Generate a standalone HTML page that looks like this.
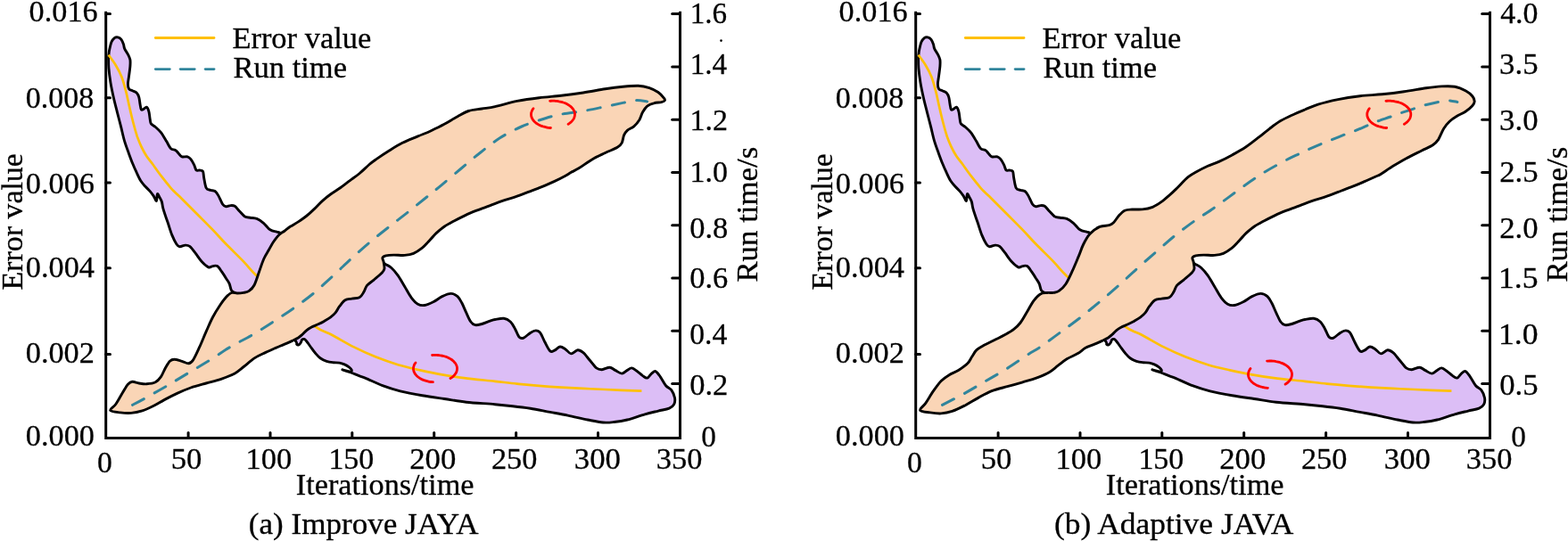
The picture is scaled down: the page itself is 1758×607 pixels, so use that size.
<!DOCTYPE html>
<html><head><meta charset="utf-8"><style>
html,body{margin:0;padding:0;background:#fff;}
svg{display:block;}
text{font-family:"Liberation Serif", "Times New Roman", serif;font-size:34.5px;fill:#000;stroke:#000;stroke-width:0.3px;}
</style></head><body>
<svg width="1758" height="607" viewBox="0 0 1758 607">
<path d="M122.4 57.2C122.8 55.6 123.9 49.8 124.9 47.3C125.9 44.8 127.4 43.3 128.6 42.4C129.8 41.5 131.1 41.6 132.3 41.9C133.5 42.2 135 43 136 44.3C137 45.6 137.9 48.1 138.5 49.8C139.1 51.5 138.9 52.9 139.7 54.7C140.5 56.6 142.4 58.8 143.4 60.9C144.4 63 145.5 64.8 145.9 67.1C146.3 69.4 146.1 71.6 145.9 74.5C145.7 77.4 145.1 81.1 144.7 84.4C144.3 87.7 143.4 91.7 143.4 94.3C143.4 96.9 143.9 98.8 144.7 100C145.5 101.2 147 101 148.4 101.7C149.8 102.4 152.1 103 153.3 104.2C154.5 105.4 155.2 107 155.8 109.1C156.4 111.1 156.6 114.2 157 116.5C157.4 118.8 157.7 121.7 158.3 122.7C158.9 123.7 159.7 123.1 160.7 122.7C161.7 122.3 163.4 119.8 164.4 120.2C165.4 120.6 166.3 122.9 166.9 125.2C167.5 127.5 167.8 131.5 168.2 133.8C168.6 136.1 168.4 137.4 169.4 138.8C170.4 140.2 172.5 140.8 174.3 142.5C176.2 144.2 178.4 146 180.5 148.7C182.6 151.4 184.8 155.6 186.7 158.6C188.5 161.6 189.9 165.1 191.6 166.7C193.2 168.3 195.1 167.5 196.6 168.4C198.1 169.3 199.1 170.9 200.3 172.2C201.5 173.4 202.3 175.3 204 175.9C205.7 176.5 208.5 175.4 210.2 175.9C211.8 176.4 212.7 177.2 213.9 178.7C215.1 180.2 216.6 182.8 217.6 184.8C218.6 186.9 219.1 190 220.1 191C221.1 192 222.6 190.8 223.8 191C225 191.2 226.7 190.8 227.5 192.2C228.3 193.6 228.1 196.6 228.7 199.7C229.3 202.8 230 208.5 231.2 210.8C232.4 213.1 234.4 212.7 236.1 213.3C237.8 213.9 239.6 213.5 241.1 214.5C242.6 215.5 243.4 216.9 244.8 219.4C246.2 221.9 248.3 227.2 249.7 229.3C251.1 231.4 252 231.6 253.4 231.8C254.8 232 256.8 230.7 258.4 230.6C260 230.5 261.6 230.3 263.3 231.3C265 232.3 266.4 234.8 268.3 236.7C270.2 238.6 272.4 241.7 274.5 242.9C276.6 244.2 278.4 243.8 280.6 244.2C282.9 244.6 285.5 244.4 288 245.4C290.5 246.4 293 248.2 295.5 250.3C298 252.4 300.4 256.2 302.9 257.8C305.4 259.4 308.1 259.5 310.3 260.2C312.5 260.9 311.1 260 316 262C320.9 264 329.3 268.5 340 272C350.7 275.5 366.7 279.8 380 283C393.3 286.2 411.2 288.7 420 291C428.8 293.3 429.6 295.1 432.7 296.7C435.8 298.3 436.6 298.4 438.8 300.5C441.1 302.6 443.7 305.6 446.2 309.1C448.7 312.6 451.2 317.4 453.7 321.5C456.2 325.6 458.6 330.5 461.1 333.8C463.6 337.1 466 339.8 468.5 341.2C471 342.6 473 342.9 475.9 342.5C478.8 342.1 482.5 340.4 485.8 338.8C489.1 337.2 492.4 334.2 495.7 332.6C499 331 502.7 329.4 505.6 329.4C508.5 329.4 510.9 330.8 513 332.6C515 334.4 516.2 336.9 517.9 340C519.5 343.1 521.2 347.6 522.9 351.1C524.5 354.6 526.1 358.7 527.8 361C529.4 363.3 530.7 364.3 532.8 364.7C534.9 365.1 537.3 364.3 540.2 363.5C543.1 362.7 547.6 360.6 550.1 359.8C552.6 359 552.5 358.9 555 358.5C557.5 358.1 562 356.9 564.9 357.3C567.8 357.7 570.2 359.1 572.3 361C574.3 362.9 575.6 365.5 577.2 368.4C578.9 371.3 580.6 376.5 582.2 378.3C583.9 380.1 585 379.9 587.1 379.1C589.2 378.3 592.3 374.8 594.6 373.4C596.9 372 598.9 370.9 600.7 370.9C602.6 370.9 604.1 371.3 605.7 373.4C607.4 375.5 608.8 379.9 610.6 383.3C612.5 386.7 614.9 392.2 616.8 393.9C618.6 395.5 619.9 394 621.7 393.2C623.6 392.4 625.8 389.2 627.9 389C630 388.8 632 390.6 634.1 391.9C636.2 393.2 638 396.8 640.3 396.9C642.6 397 645.4 392.9 647.7 392.7C650 392.5 651.6 393.7 653.9 395.6C656.2 397.5 658.8 401.4 661.3 404.3C663.8 407.2 666.4 411.2 668.7 412.9C671 414.6 672.4 414.8 674.9 414.7C677.4 414.6 681.1 412.1 683.6 412.2C686.1 412.3 687.4 414.2 689.7 415.4C692 416.5 694.9 419.1 697.2 419.1C699.5 419.1 701.4 416.4 703.3 415.4C705.1 414.4 706.4 412.7 708.3 412.9C710.2 413.1 712.5 415.2 714.5 416.6C716.5 418.1 718.8 420.4 720.6 421.6C722.5 422.9 724 424.5 725.6 424.1C727.2 423.7 728.9 420.4 730.5 419.1C732.1 417.9 733.4 416 735 416.6C736.6 417.2 738.5 420.1 740.4 422.8C742.3 425.5 744.5 430.2 746.6 432.7C748.7 435.2 751.1 435.4 752.8 437.7C754.4 440 756 443.6 756.5 446.3C757 449 756.7 451.7 755.7 453.7C754.7 455.7 753.2 457 750.3 458.2C747.3 459.4 742.5 460 738 461.1C733.5 462.2 728.9 463.2 723.1 464.8C717.3 466.4 709.1 469.6 703.3 471C697.5 472.4 693 473 688.5 473.5C684 474 681.1 474.4 676.1 474C671.1 473.6 665.4 472.3 658.8 471C652.2 469.7 643.6 467.5 636.6 466.1C629.6 464.7 623.8 463.7 616.8 462.4C609.8 461.1 601.6 459.3 594.6 458.2C587.6 457.1 581.4 456.4 574.8 455.7C568.2 454.9 563.6 454.4 555 453.7C546.4 452.9 532.4 452.2 522.9 451.2C513.4 450.2 506.4 448.7 498.2 447.5C489.9 446.3 481.6 445.2 473.4 443.8C465.1 442.4 456.1 440.8 448.7 438.9C441.3 437 435.3 435.1 428.9 432.7C422.4 430.3 414.4 426.1 410 424.3C405.6 422.5 405.3 422.7 402.5 421.6C399.7 420.6 396.5 419.1 393.4 418C390.3 416.9 385.5 415.3 383.9 414.8L393.6 417.4C393.7 417 394.6 416.2 394.3 415.3C394 414.4 393 413.2 391.6 412.1C390.2 411 388 409.7 386.2 408.9C384.4 408.1 382.8 407.5 380.7 407.1C378.6 406.7 375.9 407 373.5 406.7C371.1 406.4 368.6 406.1 366.2 405.3C363.8 404.5 361.1 403.2 359 401.7C356.9 400.2 355.4 398.4 353.6 396.3C351.8 394.2 349.8 391.3 348.1 389C346.4 386.7 344.8 384.1 343.6 382.7C342.4 381.3 341.7 380.6 340.9 380.4C340.1 380.2 339.2 380.6 338.6 381.3C338 382 337.8 383.6 337.2 384.5C336.6 385.4 335.8 386.5 335 386.8C334.2 387.1 333.4 387.1 332.7 386.3C332 385.5 334.7 386.4 330.9 382C327.1 377.6 317.6 367.8 310 360C302.4 352.2 291.7 340 285 335C278.3 330 273.4 331 270 330C266.6 329 266.2 329.7 264.5 329C262.8 328.3 260.8 327.8 259.6 326C258.4 324.2 258.2 320.6 257.2 318.3C256.2 316 254.8 314.5 253.4 312.2C252 309.9 250.1 307 248.5 304.7C246.9 302.4 245.2 299.6 243.6 298.6C241.9 297.6 240.2 298.4 238.6 298.6C236.9 298.8 235.8 300.6 233.7 299.8C231.6 299 228.7 296.3 226.2 293.6C223.7 290.9 221.1 286.6 218.8 283.7C216.6 280.8 214.5 277.7 212.7 276.3C210.8 274.9 209.6 275 207.7 275.1C205.8 275.2 203.2 277 201.5 276.8C199.8 276.6 199.2 276 197.8 273.8C196.4 271.6 194.6 268 192.9 263.9C191.2 259.8 189.6 254 187.9 249.1C186.2 244.2 184.1 238.1 183 234.3C181.9 230.5 182.1 228.7 181.4 226.5C180.7 224.3 179.6 222.7 178.8 221.2C178 219.7 177 216.9 176.4 217.6C175.8 218.3 176.1 225 175.4 225.4C174.7 225.8 173.4 221.7 172.2 219.9C171 218.1 169.7 216.4 168.2 214.6C166.7 212.8 164.8 211.3 163 209.3C161.2 207.3 159.3 205.3 157.7 202.7C156 200.1 154.6 196.8 153.1 193.5C151.6 190.2 149.9 186.5 148.5 183C147.1 179.5 146 176.5 144.5 172.4C143 168.3 141.2 163.7 139.7 158.7C138.2 153.7 137 147.7 135.6 142.2C134.2 136.7 132.8 131.3 131.4 125.8C130 120.3 128.5 114.8 127.3 109.3C126.1 103.8 124.9 98.4 124 92.9C123.1 87.4 122.3 81.2 121.9 76.4C121.5 71.6 121.6 66.1 121.6 64Z" fill="#DCBEF6" stroke="#000" stroke-width="2.9" stroke-linejoin="round"/>
<path d="M121.6 61.6C123 63.5 127.3 69.1 129.8 73.2C132.3 77.3 134.5 81.4 136.4 86.3C138.3 91.2 139.9 97.6 141.3 102.8C142.7 108 143.5 112.9 144.6 117.6C145.7 122.3 146.7 127 147.7 131C148.7 135 149.4 137.8 150.4 141.5C151.4 145.2 152.5 149.2 153.8 153.1C155.2 156.9 156.8 160.9 158.5 164.6C160.2 168.2 162.1 171.7 164.2 175C166.3 178.3 168.6 180.6 171.2 184.2C173.8 187.8 176.6 192.1 180 196.5C183.4 200.9 187.7 206.5 191.5 210.8C195.3 215.1 199.2 218.5 203.1 222.3C206.9 226.1 210.8 230 214.6 233.8C218.4 237.7 222.2 241.3 226.2 245.4C230.2 249.5 234.3 253.4 238.8 258.1C243.3 262.8 247.7 267.9 253.4 273.8C259.1 279.7 267.4 287.6 273.2 293.6C279 299.6 280.2 302.3 288 309.7C295.8 317.1 309.1 328.6 320 338C330.9 347.4 344.7 360 353.4 366.3C362.1 372.6 364.9 372 372.1 375.8C379.3 379.6 388.6 385.3 396.8 389.4C405 393.5 413.3 397.3 421.5 400.6C429.7 403.9 437.9 406.7 446.2 409.2C454.4 411.7 462.8 413.5 471 415.4C479.2 417.2 487.5 418.9 495.7 420.3C503.9 421.8 510.5 422.9 520.4 424.1C530.3 425.4 545.1 426.7 555 427.8C564.9 428.9 571.5 429.8 579.7 430.6C587.9 431.4 596.1 432.1 604.4 432.8C612.6 433.5 621 434.1 629.2 434.6C637.5 435.1 645.7 435.5 653.9 435.9C662.1 436.3 667.7 436.5 678.6 437C689.5 437.5 712.6 438.4 719.4 438.7" fill="none" stroke="#FFC000" stroke-width="2.7"/>
<path d="M123.7 460.4C122.9 458.8 127.6 456.7 129.8 453.5C132.1 450.3 134.9 444.8 137.2 441.1C139.5 437.4 141.5 433.3 143.4 431.2C145.3 429.1 146.3 428.5 148.4 428.3C150.5 428.1 153.1 429.6 155.8 430C158.5 430.4 161.3 431 164.4 430.8C167.5 430.6 171.6 430.2 174.3 428.8C177 427.4 178.6 425.3 180.5 422.6C182.4 419.9 183.8 415.6 185.5 412.7C187.2 409.8 188.8 406.9 190.4 405.3C192 403.7 193 403.3 195.3 403.3C197.6 403.3 201.3 404.6 204 405.3C206.7 406.1 209.3 408 211.4 407.8C213.5 407.6 214.3 407.2 216.4 404.1C218.5 401 221.3 394.6 223.8 389.2C226.3 383.8 228.7 377.5 231.2 371.9C233.7 366.3 236.1 360.5 238.6 355.8C241.1 351.1 243.5 347.2 246 343.5C248.5 339.8 251.1 336.1 253.4 333.6C255.7 331.1 257.5 329.3 259.6 328.5C261.7 327.7 263.7 329 266 329C268.3 329 271 328.8 273.2 328.4C275.4 328 277.3 327.8 279.3 326.4C281.3 325 283.1 323.6 285 320C286.9 316.4 288.7 310 290.5 305C292.3 300 294.1 294.2 296 290C297.9 285.8 299.9 283.1 301.6 280C303.4 276.9 304.6 274.2 306.5 271.5C308.4 268.8 310.7 265.6 312.8 263.5C314.9 261.4 316.8 260.7 318.9 259.2C321 257.7 322.7 256 325.3 254.3C327.9 252.6 331.4 250.9 334.4 248.9C337.4 246.9 340.4 244.9 343.4 242.5C346.4 240.1 349.5 237.3 352.5 234.4C355.5 231.5 358.5 228 361.5 225.3C364.5 222.6 367.3 220.4 370.6 218C373.9 215.6 377.9 213.4 381.5 210.8C385.1 208.2 388.7 205.3 392.3 202.6C395.9 199.9 399.6 197.5 403.2 194.5C406.8 191.5 411.1 187.1 414.1 184.5C417.2 181.9 417.8 181.5 421.5 178.9C425.2 176.3 431.4 172.1 436.4 169C441.3 165.9 445.8 163 451.2 160.3C456.6 157.6 463.1 155.2 468.5 152.9C473.9 150.6 478.4 149 483.3 146.7C488.2 144.4 493.2 142 498.2 139.3C503.1 136.6 508.5 133.2 513 130.7C517.5 128.2 520.9 126 525.4 124.5C529.9 123 535.3 122.8 540.2 122C545.1 121.2 548.4 121 555 119.6C561.6 118.2 571.5 115.1 579.7 113.4C587.9 111.8 596.1 110.7 604.4 109.7C612.6 108.7 621 108.2 629.2 107.3C637.5 106.3 645.7 105.2 653.9 104C662.1 102.8 671.2 100.9 678.6 99.8C686 98.7 692.2 97.9 698.4 97.3C704.6 96.7 710.8 96.1 715.7 96.3C720.6 96.5 724.3 97.4 728 98.6C731.7 99.8 735.2 101.7 737.9 103.5C740.6 105.3 742.9 108.2 744.1 109.7C745.4 111.2 745.8 111.8 745.4 112.6C745 113.4 743.7 114.1 741.6 114.6C739.5 115.1 735.7 115 733 115.8C730.3 116.5 727.7 117.4 725.6 119.1C723.5 120.8 722.1 123.2 720.6 125.7C719.1 128.2 718.5 131.7 716.9 134.4C715.2 137.1 713 139.8 710.7 141.8C708.4 143.8 705.1 144.7 703.3 146.3C701.4 148 700.6 149.4 699.6 151.7C698.6 154 698.4 158 697.2 160.3C696 162.6 695.3 163.4 692.2 165.3C689.1 167.2 683.3 169.2 678.6 171.5C673.9 173.8 668.8 176 663.8 178.9C658.8 181.8 652.9 186.4 648.9 188.8C644.9 191.2 642.5 192.2 640 193.6C637.5 195 637.1 195.5 634 197.2C630.9 198.9 625.8 201.5 621.3 203.6C616.8 205.7 611.6 207.9 606.8 209.9C602 211.9 597.1 213.6 592.3 215.4C587.5 217.2 582.6 219.2 577.8 220.8C573 222.5 568.1 223.6 563.3 225.3C558.5 227 553.7 229 548.9 230.8C544.1 232.6 538.9 234.4 534.4 236.2C529.9 238 525.9 239.6 521.7 241.6C517.5 243.6 512.9 245.9 509 248C505.1 250.1 501.4 252 498.1 254.3C494.8 256.6 492.1 258.7 489.1 261.6C486.1 264.5 482.6 268.7 480 271.5C477.4 274.3 476.1 276.1 473.4 278.2C470.7 280.3 466.9 283 463.6 284.4C460.3 285.8 457.4 286.1 453.7 286.4C450 286.7 444.8 286 441.3 286.1C437.8 286.2 434.8 286.4 432.7 286.9C430.6 287.4 429.3 288.1 428.9 289.3C428.5 290.5 429.9 292.2 430.2 294.3C430.5 296.4 431.3 299.6 430.9 301.7C430.5 303.8 429.7 304.5 427.7 306.6C425.7 308.7 421.8 311.8 419.1 314.1C416.4 316.4 413.5 317.9 411.6 320.2C409.7 322.4 409.3 325.3 407.9 327.6C406.5 329.9 405.3 332.6 403 333.8C400.7 335.1 397 334.6 394.3 335.1C391.6 335.6 389.2 335.4 386.9 336.8C384.6 338.2 382.5 341.4 380.7 343.7C378.9 346 377.8 348.9 376.1 350.9C374.4 352.9 372.8 354.3 370.7 355.9C368.6 357.5 365.8 359 363.4 360.4C361 361.8 358.6 362.9 356.2 364C353.8 365.1 351 366.1 348.9 367.2C346.8 368.3 345.1 369.4 343.5 370.8C341.9 372.2 340.5 373.9 339 375.3C337.5 376.7 336.4 377.8 334.4 379C332.4 380.2 329.9 381.3 327.2 382.6C324.5 383.9 321.1 385.3 318.1 386.6C315.1 387.9 312.5 388.8 309.1 390.3C305.7 391.8 301.8 393.5 297.9 395.4C294 397.3 289.7 398.9 285.6 401.6C281.5 404.3 276.9 408.6 273.2 411.5C269.5 414.4 267.4 416.6 263.3 418.9C259.2 421.2 253.8 423.2 248.5 425.1C243.2 427 237 428.4 231.2 430C225.4 431.6 219.2 433.1 213.9 435C208.6 436.9 204.1 438.8 199.1 441.1C194.1 443.4 188.7 446.2 184.2 448.6C179.7 451 176 453.4 171.9 455.5C167.8 457.6 163.6 459.6 159.5 460.9C155.4 462.2 151.2 463.1 147.1 463.4C143 463.7 138.7 463.4 134.8 462.9C130.9 462.4 124.5 462 123.7 460.4Z" fill="#FAD5B6" stroke="#000" stroke-width="2.9" stroke-linejoin="round"/>
<path d="M147.9 454.7C150.4 453.4 156.3 450.4 162.7 446.8C169.1 443.2 178.6 437.9 186.5 433.3C194.4 428.7 202.1 423.9 210.2 419.1C218.3 414.3 226.8 409.3 234.9 404.3C243 399.3 250.7 393.7 258.6 389C266.6 384.3 274.7 380.5 282.6 375.9C290.6 371.2 298.4 366.2 306.3 361.1C314.2 356 322.5 350.6 330.1 345.2C337.7 339.8 344.9 334.6 352 328.7C359.1 322.8 366.1 316.1 373 309.8C379.9 303.5 386.4 297.1 393.2 290.8C400 284.6 406.9 278.3 414 272.3C421.1 266.3 428.8 260.4 436.1 254.6C443.4 248.8 450.6 243.4 457.9 237.6C465.2 231.8 473.8 224.9 480 219.8C486.2 214.8 489.3 212.4 495.4 207.3C501.5 202.2 509.4 195.4 516.5 189.5C523.6 183.6 530.6 177.4 537.9 171.7C545.2 166 552.3 160 560.1 155.1C567.9 150.2 576.2 145.7 584.8 142C593.4 138.3 604.1 135 611.5 132.7C618.9 130.4 622.1 129.6 629.2 128.2C636.3 126.8 645.7 125.9 653.9 124.5C662.1 123.1 671.2 121.1 678.6 119.6C686 118.1 692.6 116.6 698.4 115.4C704.2 114.2 708.7 112.8 713.2 112.6C717.7 112.3 723.5 113.7 725.6 113.9" fill="none" stroke="#31859C" stroke-width="3" stroke-dasharray="14.4 13.55" stroke-dashoffset="27.05" stroke-linecap="round"/>
<path d="M598 121.7C597.8 121.9 597.4 122.5 597.2 122.8C597 123.2 596.7 123.6 596.5 124C596.4 124.4 596.2 124.8 596.1 125.2C595.9 125.6 595.8 126 595.7 126.4C595.6 126.8 595.6 127.2 595.5 127.6C595.5 128 595.5 128.4 595.5 128.8C595.5 129.2 595.6 129.6 595.6 130C595.7 130.4 595.8 130.8 595.9 131.2C596 131.6 596.2 132 596.4 132.4C596.5 132.8 596.7 133.2 597 133.6C597.2 133.9 597.4 134.3 597.7 134.7C598 135.1 598.3 135.4 598.6 135.8C598.9 136.1 599.2 136.5 599.6 136.8C600 137.1 600.3 137.5 600.7 137.8C601.1 138.1 601.6 138.4 602 138.7C602.5 139 602.9 139.3 603.4 139.6C603.9 139.9 604.4 140.1 604.9 140.4C605.4 140.6 605.9 140.9 606.5 141.1C607 141.3 607.6 141.5 608.2 141.7C608.7 141.9 609.3 142.1 609.9 142.2C610.5 142.4 611.1 142.6 611.7 142.7C612.3 142.8 613 143 613.6 143.1C614.2 143.2 614.9 143.3 615.5 143.3C616.1 143.4 617.1 143.5 617.4 143.5" fill="none" stroke="#FF0000" stroke-width="2.8" stroke-linecap="round"/>
<path d="M616.6 113.3C617 113.3 618.3 113.2 619.1 113.2C620 113.2 620.9 113.2 621.7 113.2C622.6 113.3 623.4 113.3 624.3 113.4C625.1 113.5 625.9 113.6 626.8 113.8C627.6 113.9 628.4 114.1 629.2 114.3C630 114.5 630.7 114.7 631.5 115C632.3 115.2 633 115.5 633.7 115.8C634.4 116.1 635.1 116.4 635.7 116.8C636.4 117.1 637 117.5 637.6 117.8C638.2 118.2 638.8 118.6 639.3 119C639.8 119.5 640.3 119.9 640.8 120.3C641.2 120.8 641.6 121.3 642 121.7C642.4 122.2 642.7 122.7 643 123.2C643.3 123.7 643.6 124.2 643.8 124.7C644 125.2 644.1 125.8 644.3 126.3C644.4 126.8 644.5 127.3 644.5 127.9C644.5 128.4 644.5 128.9 644.4 129.5C644.4 130 644.3 130.5 644.1 131C644 131.6 643.8 132.1 643.6 132.6C643.3 133.1 643 133.6 642.7 134.1C642.4 134.6 642 135.1 641.6 135.5C641.2 136 640.8 136.5 640.3 136.9C639.8 137.3 639.3 137.8 638.8 138.2C638.2 138.6 637.3 139.1 637 139.3" fill="none" stroke="#FF0000" stroke-width="2.8" stroke-linecap="round"/>
<path d="M466 406.9C465.8 407.1 465.4 407.7 465.2 408C465 408.4 464.7 408.8 464.5 409.2C464.4 409.6 464.2 410 464.1 410.4C463.9 410.8 463.8 411.2 463.7 411.6C463.6 412 463.6 412.4 463.5 412.8C463.5 413.2 463.5 413.6 463.5 414C463.5 414.4 463.6 414.8 463.6 415.2C463.7 415.6 463.8 416 463.9 416.4C464 416.8 464.2 417.2 464.4 417.6C464.5 418 464.7 418.4 465 418.8C465.2 419.1 465.4 419.5 465.7 419.9C466 420.3 466.3 420.6 466.6 421C466.9 421.3 467.2 421.7 467.6 422C468 422.3 468.3 422.7 468.7 423C469.1 423.3 469.6 423.6 470 423.9C470.5 424.2 470.9 424.5 471.4 424.8C471.9 425.1 472.4 425.3 472.9 425.6C473.4 425.8 473.9 426.1 474.5 426.3C475 426.5 475.6 426.7 476.2 426.9C476.7 427.1 477.3 427.3 477.9 427.4C478.5 427.6 479.1 427.8 479.7 427.9C480.3 428 481 428.2 481.6 428.3C482.2 428.4 482.9 428.5 483.5 428.5C484.1 428.6 485.1 428.7 485.4 428.7" fill="none" stroke="#FF0000" stroke-width="2.8" stroke-linecap="round"/>
<path d="M484.6 398.5C485 398.5 486.3 398.4 487.1 398.4C488 398.4 488.9 398.4 489.7 398.4C490.6 398.5 491.4 398.5 492.3 398.6C493.1 398.7 493.9 398.8 494.8 399C495.6 399.1 496.4 399.3 497.2 399.5C498 399.7 498.7 399.9 499.5 400.2C500.3 400.4 501 400.7 501.7 401C502.4 401.3 503.1 401.6 503.7 402C504.4 402.3 505 402.7 505.6 403C506.2 403.4 506.8 403.8 507.3 404.2C507.8 404.7 508.3 405.1 508.8 405.5C509.2 406 509.6 406.5 510 406.9C510.4 407.4 510.7 407.9 511 408.4C511.3 408.9 511.6 409.4 511.8 409.9C512 410.4 512.1 411 512.3 411.5C512.4 412 512.5 412.5 512.5 413.1C512.5 413.6 512.5 414.1 512.4 414.7C512.4 415.2 512.3 415.7 512.1 416.2C512 416.8 511.8 417.3 511.6 417.8C511.3 418.3 511 418.8 510.7 419.3C510.4 419.8 510 420.3 509.6 420.7C509.2 421.2 508.8 421.7 508.3 422.1C507.8 422.5 507.3 423 506.8 423.4C506.2 423.8 505.3 424.3 505 424.5" fill="none" stroke="#FF0000" stroke-width="2.8" stroke-linecap="round"/>
<path d="M118.7 14.2 V491.4 H762.5 V14.2" fill="none" stroke="#000" stroke-width="3" stroke-linejoin="miter" stroke-linecap="square"/>
<line x1="118.7" y1="15.6" x2="123.5" y2="15.6" stroke="#000" stroke-width="3" stroke-linecap="round"/>
<line x1="118.7" y1="109.7" x2="123.5" y2="109.7" stroke="#000" stroke-width="3" stroke-linecap="round"/>
<line x1="118.7" y1="204.9" x2="123.5" y2="204.9" stroke="#000" stroke-width="3" stroke-linecap="round"/>
<line x1="118.7" y1="300.7" x2="123.5" y2="300.7" stroke="#000" stroke-width="3" stroke-linecap="round"/>
<line x1="118.7" y1="397.4" x2="123.5" y2="397.4" stroke="#000" stroke-width="3" stroke-linecap="round"/>
<line x1="211.1" y1="491.4" x2="211.1" y2="485.6" stroke="#000" stroke-width="3" stroke-linecap="round"/>
<line x1="303" y1="491.4" x2="303" y2="485.6" stroke="#000" stroke-width="3" stroke-linecap="round"/>
<line x1="394.8" y1="491.4" x2="394.8" y2="485.6" stroke="#000" stroke-width="3" stroke-linecap="round"/>
<line x1="486.7" y1="491.4" x2="486.7" y2="485.6" stroke="#000" stroke-width="3" stroke-linecap="round"/>
<line x1="578.6" y1="491.4" x2="578.6" y2="485.6" stroke="#000" stroke-width="3" stroke-linecap="round"/>
<line x1="670.5" y1="491.4" x2="670.5" y2="485.6" stroke="#000" stroke-width="3" stroke-linecap="round"/>
<line x1="762.5" y1="430.6" x2="753.7" y2="430.6" stroke="#000" stroke-width="3" stroke-linecap="round"/>
<line x1="762.5" y1="371.3" x2="753.7" y2="371.3" stroke="#000" stroke-width="3" stroke-linecap="round"/>
<line x1="762.5" y1="312.1" x2="753.7" y2="312.1" stroke="#000" stroke-width="3" stroke-linecap="round"/>
<line x1="762.5" y1="252.8" x2="753.7" y2="252.8" stroke="#000" stroke-width="3" stroke-linecap="round"/>
<line x1="762.5" y1="193.6" x2="753.7" y2="193.6" stroke="#000" stroke-width="3" stroke-linecap="round"/>
<line x1="762.5" y1="134.3" x2="753.7" y2="134.3" stroke="#000" stroke-width="3" stroke-linecap="round"/>
<line x1="762.5" y1="75.1" x2="753.7" y2="75.1" stroke="#000" stroke-width="3" stroke-linecap="round"/>
<line x1="762.5" y1="15.6" x2="753.7" y2="15.6" stroke="#000" stroke-width="3" stroke-linecap="round"/>
<line x1="174.3" y1="42.5" x2="240" y2="42.5" stroke="#FFC000" stroke-width="2.8" stroke-linecap="round"/>
<line x1="174.3" y1="77.6" x2="190.3" y2="77.6" stroke="#31859C" stroke-width="2.8" stroke-linecap="round"/>
<line x1="202.2" y1="77.6" x2="218.2" y2="77.6" stroke="#31859C" stroke-width="2.8" stroke-linecap="round"/>
<line x1="230.2" y1="77.6" x2="240" y2="77.6" stroke="#31859C" stroke-width="2.8" stroke-linecap="round"/>
<path d="M1030.4 57.2C1030.8 55.6 1031.9 49.8 1032.9 47.3C1033.9 44.8 1035.4 43.3 1036.6 42.4C1037.8 41.5 1039.1 41.6 1040.3 41.9C1041.5 42.2 1043 43 1044 44.3C1045 45.6 1045.9 48.1 1046.5 49.8C1047.1 51.5 1046.9 52.9 1047.7 54.7C1048.5 56.6 1050.4 58.8 1051.4 60.9C1052.4 63 1053.5 64.8 1053.9 67.1C1054.3 69.4 1054.1 71.6 1053.9 74.5C1053.7 77.4 1053.1 81.1 1052.7 84.4C1052.3 87.7 1051.4 91.7 1051.4 94.3C1051.4 96.9 1051.9 98.8 1052.7 100C1053.5 101.2 1055 101 1056.4 101.7C1057.8 102.4 1060.1 103 1061.3 104.2C1062.5 105.4 1063.2 107 1063.8 109.1C1064.4 111.1 1064.6 114.2 1065 116.5C1065.4 118.8 1065.7 121.7 1066.3 122.7C1066.9 123.7 1067.7 123.1 1068.7 122.7C1069.7 122.3 1071.4 119.8 1072.4 120.2C1073.4 120.6 1074.3 122.9 1074.9 125.2C1075.5 127.5 1075.8 131.5 1076.2 133.8C1076.6 136.1 1076.4 137.4 1077.4 138.8C1078.4 140.2 1080.5 140.8 1082.3 142.5C1084.1 144.2 1086.4 146 1088.5 148.7C1090.6 151.4 1092.9 155.6 1094.7 158.6C1096.5 161.6 1097.9 165.1 1099.6 166.7C1101.2 168.3 1103.1 167.5 1104.6 168.4C1106 169.3 1107.1 170.9 1108.3 172.2C1109.5 173.4 1110.3 175.3 1112 175.9C1113.7 176.5 1116.5 175.4 1118.2 175.9C1119.9 176.4 1120.7 177.2 1121.9 178.7C1123.1 180.2 1124.6 182.8 1125.6 184.8C1126.6 186.9 1127.1 190 1128.1 191C1129.1 192 1130.6 190.8 1131.8 191C1133 191.2 1134.7 190.8 1135.5 192.2C1136.3 193.6 1136.1 196.6 1136.7 199.7C1137.3 202.8 1138 208.5 1139.2 210.8C1140.4 213.1 1142.4 212.7 1144.1 213.3C1145.8 213.9 1147.6 213.5 1149.1 214.5C1150.5 215.5 1151.4 216.9 1152.8 219.4C1154.2 221.9 1156.3 227.2 1157.7 229.3C1159.1 231.4 1160 231.6 1161.4 231.8C1162.9 232 1164.8 230.7 1166.4 230.6C1168.1 230.5 1169.7 230.3 1171.3 231.3C1172.9 232.3 1174.4 234.8 1176.3 236.7C1178.2 238.6 1180.5 241.7 1182.5 242.9C1184.5 244.2 1186.3 243.8 1188.6 244.2C1190.8 244.6 1193.5 244.4 1196 245.4C1198.5 246.4 1201 248.2 1203.5 250.3C1206 252.4 1208.4 256.2 1210.9 257.8C1213.4 259.4 1216.1 259.5 1218.3 260.2C1220.5 260.9 1219 260 1224 262C1229 264 1237.3 268.5 1248 272C1258.7 275.5 1274.7 279.8 1288 283C1301.3 286.2 1319.2 288.7 1328 291C1336.8 293.3 1337.6 295.1 1340.7 296.7C1343.8 298.3 1344.5 298.4 1346.8 300.5C1349 302.6 1351.7 305.6 1354.2 309.1C1356.7 312.6 1359.2 317.4 1361.7 321.5C1364.2 325.6 1366.6 330.5 1369.1 333.8C1371.6 337.1 1374 339.8 1376.5 341.2C1379 342.6 1381 342.9 1383.9 342.5C1386.8 342.1 1390.5 340.4 1393.8 338.8C1397.1 337.2 1400.4 334.2 1403.7 332.6C1407 331 1410.7 329.4 1413.6 329.4C1416.5 329.4 1419 330.8 1421 332.6C1423 334.4 1424.2 336.9 1425.9 340C1427.6 343.1 1429.2 347.6 1430.9 351.1C1432.6 354.6 1434.2 358.7 1435.8 361C1437.4 363.3 1438.7 364.3 1440.8 364.7C1442.9 365.1 1445.3 364.3 1448.2 363.5C1451.1 362.7 1455.6 360.6 1458.1 359.8C1460.6 359 1460.5 358.9 1463 358.5C1465.5 358.1 1470 356.9 1472.9 357.3C1475.8 357.7 1478.2 359.1 1480.3 361C1482.3 362.9 1483.5 365.5 1485.2 368.4C1486.9 371.3 1488.6 376.5 1490.2 378.3C1491.8 380.1 1493 379.9 1495.1 379.1C1497.2 378.3 1500.3 374.8 1502.6 373.4C1504.9 372 1506.8 370.9 1508.7 370.9C1510.6 370.9 1512.1 371.3 1513.7 373.4C1515.3 375.5 1516.8 379.9 1518.6 383.3C1520.4 386.7 1522.9 392.2 1524.8 393.9C1526.7 395.5 1527.8 394 1529.7 393.2C1531.6 392.4 1533.8 389.2 1535.9 389C1538 388.8 1540 390.6 1542.1 391.9C1544.2 393.2 1546 396.8 1548.3 396.9C1550.6 397 1553.4 392.9 1555.7 392.7C1558 392.5 1559.6 393.7 1561.9 395.6C1564.2 397.5 1566.8 401.4 1569.3 404.3C1571.8 407.2 1574.4 411.2 1576.7 412.9C1579 414.6 1580.4 414.8 1582.9 414.7C1585.4 414.6 1589.1 412.1 1591.6 412.2C1594.1 412.3 1595.4 414.2 1597.7 415.4C1600 416.5 1602.9 419.1 1605.2 419.1C1607.5 419.1 1609.5 416.4 1611.3 415.4C1613.1 414.4 1614.4 412.7 1616.3 412.9C1618.2 413.1 1620.5 415.2 1622.5 416.6C1624.5 418.1 1626.8 420.4 1628.6 421.6C1630.4 422.9 1631.9 424.5 1633.6 424.1C1635.2 423.7 1636.9 420.4 1638.5 419.1C1640.1 417.9 1641.3 416 1643 416.6C1644.7 417.2 1646.5 420.1 1648.4 422.8C1650.3 425.5 1652.5 430.2 1654.6 432.7C1656.7 435.2 1659.1 435.4 1660.8 437.7C1662.5 440 1664 443.6 1664.5 446.3C1665 449 1664.7 451.7 1663.7 453.7C1662.7 455.7 1661.2 457 1658.3 458.2C1655.3 459.4 1650.5 460 1646 461.1C1641.5 462.2 1636.9 463.2 1631.1 464.8C1625.3 466.4 1617.1 469.6 1611.3 471C1605.5 472.4 1601 473 1596.5 473.5C1592 474 1589 474.4 1584.1 474C1579.1 473.6 1573.4 472.3 1566.8 471C1560.2 469.7 1551.6 467.5 1544.6 466.1C1537.6 464.7 1531.8 463.7 1524.8 462.4C1517.8 461.1 1509.6 459.3 1502.6 458.2C1495.6 457.1 1489.4 456.4 1482.8 455.7C1476.2 454.9 1471.7 454.4 1463 453.7C1454.3 452.9 1440.4 452.2 1430.9 451.2C1421.4 450.2 1414.5 448.7 1406.2 447.5C1398 446.3 1389.7 445.2 1381.4 443.8C1373.2 442.4 1364.1 440.8 1356.7 438.9C1349.3 437 1343.4 435.1 1336.9 432.7C1330.5 430.3 1322.4 426.1 1318 424.3C1313.6 422.5 1313.3 422.7 1310.5 421.6C1307.7 420.6 1304.5 419.1 1301.4 418C1298.3 416.9 1293.5 415.3 1291.9 414.8L1301.6 417.4C1301.7 417 1302.6 416.2 1302.3 415.3C1302 414.4 1300.9 413.2 1299.6 412.1C1298.2 411 1296 409.7 1294.2 408.9C1292.4 408.1 1290.8 407.5 1288.7 407.1C1286.6 406.7 1283.9 407 1281.5 406.7C1279.1 406.4 1276.6 406.1 1274.2 405.3C1271.8 404.5 1269.1 403.2 1267 401.7C1264.9 400.2 1263.4 398.4 1261.6 396.3C1259.8 394.2 1257.8 391.3 1256.1 389C1254.4 386.7 1252.8 384.1 1251.6 382.7C1250.4 381.3 1249.7 380.6 1248.9 380.4C1248.1 380.2 1247.2 380.6 1246.6 381.3C1246 382 1245.8 383.6 1245.2 384.5C1244.6 385.4 1243.8 386.5 1243 386.8C1242.2 387.1 1241.4 387.1 1240.7 386.3C1240 385.5 1242.7 386.4 1238.9 382C1235.1 377.6 1225.7 367.8 1218 360C1210.3 352.2 1199.7 340 1193 335C1186.3 330 1181.4 331 1178 330C1174.6 329 1174.2 329.7 1172.5 329C1170.8 328.3 1168.8 327.8 1167.6 326C1166.4 324.2 1166.2 320.6 1165.2 318.3C1164.2 316 1162.9 314.5 1161.4 312.2C1160 309.9 1158.1 307 1156.5 304.7C1154.9 302.4 1153.2 299.6 1151.6 298.6C1149.9 297.6 1148.2 298.4 1146.6 298.6C1144.9 298.8 1143.8 300.6 1141.7 299.8C1139.6 299 1136.7 296.3 1134.2 293.6C1131.7 290.9 1129 286.6 1126.8 283.7C1124.5 280.8 1122.5 277.7 1120.7 276.3C1118.9 274.9 1117.6 275 1115.7 275.1C1113.8 275.2 1111.2 277 1109.5 276.8C1107.8 276.6 1107.2 276 1105.8 273.8C1104.4 271.6 1102.6 268 1100.9 263.9C1099.2 259.8 1097.6 254 1095.9 249.1C1094.2 244.2 1092.1 238.1 1091 234.3C1089.9 230.5 1090.1 228.7 1089.4 226.5C1088.7 224.3 1087.6 222.7 1086.8 221.2C1086 219.7 1085 216.9 1084.4 217.6C1083.8 218.3 1084.1 225 1083.4 225.4C1082.7 225.8 1081.4 221.7 1080.2 219.9C1079 218.1 1077.7 216.4 1076.2 214.6C1074.7 212.8 1072.8 211.3 1071 209.3C1069.2 207.3 1067.4 205.3 1065.7 202.7C1064 200.1 1062.6 196.8 1061.1 193.5C1059.6 190.2 1057.9 186.5 1056.5 183C1055.1 179.5 1054 176.5 1052.5 172.4C1051 168.3 1049.2 163.7 1047.7 158.7C1046.2 153.7 1045 147.7 1043.6 142.2C1042.2 136.7 1040.8 131.3 1039.4 125.8C1038 120.3 1036.5 114.8 1035.3 109.3C1034.1 103.8 1032.9 98.4 1032 92.9C1031.1 87.4 1030.3 81.2 1029.9 76.4C1029.5 71.6 1029.6 66.1 1029.6 64Z" fill="#DCBEF6" stroke="#000" stroke-width="2.9" stroke-linejoin="round"/>
<path d="M1029.6 61.6C1031 63.5 1035.3 69.1 1037.8 73.2C1040.3 77.3 1042.5 81.4 1044.4 86.3C1046.3 91.2 1047.9 97.6 1049.3 102.8C1050.7 108 1051.5 112.9 1052.6 117.6C1053.7 122.3 1054.7 127 1055.7 131C1056.7 135 1057.4 137.8 1058.4 141.5C1059.4 145.2 1060.5 149.2 1061.8 153.1C1063.1 156.9 1064.8 160.9 1066.5 164.6C1068.2 168.2 1070.1 171.7 1072.2 175C1074.3 178.3 1076.6 180.6 1079.2 184.2C1081.8 187.8 1084.6 192.1 1088 196.5C1091.4 200.9 1095.7 206.5 1099.5 210.8C1103.3 215.1 1107.2 218.5 1111.1 222.3C1114.9 226.1 1118.8 230 1122.6 233.8C1126.4 237.7 1130.2 241.3 1134.2 245.4C1138.2 249.5 1142.3 253.4 1146.8 258.1C1151.3 262.8 1155.7 267.9 1161.4 273.8C1167.1 279.7 1175.4 287.6 1181.2 293.6C1187 299.6 1188.2 302.3 1196 309.7C1203.8 317.1 1217.1 328.6 1228 338C1238.9 347.4 1252.7 360 1261.4 366.3C1270.1 372.6 1272.9 372 1280.1 375.8C1287.3 379.6 1296.6 385.3 1304.8 389.4C1313 393.5 1321.3 397.3 1329.5 400.6C1337.7 403.9 1346 406.7 1354.2 409.2C1362.5 411.7 1370.8 413.5 1379 415.4C1387.2 417.2 1395.5 418.9 1403.7 420.3C1411.9 421.8 1418.5 422.9 1428.4 424.1C1438.3 425.4 1453.1 426.7 1463 427.8C1472.9 428.9 1479.5 429.8 1487.7 430.6C1495.9 431.4 1504.2 432.1 1512.4 432.8C1520.7 433.5 1529 434.1 1537.2 434.6C1545.5 435.1 1553.7 435.5 1561.9 435.9C1570.1 436.3 1575.7 436.5 1586.6 437C1597.5 437.5 1620.6 438.4 1627.4 438.7" fill="none" stroke="#FFC000" stroke-width="2.7"/>
<path d="M1031.7 460.4C1030.9 458.6 1035.3 455.9 1037.8 452.3C1040.3 448.7 1043.6 442.8 1046.5 438.7C1049.4 434.6 1052.2 430.5 1055.1 427.5C1058 424.5 1060.5 422.9 1063.8 420.9C1067.1 418.8 1071.4 417.4 1074.9 415.2C1078.4 413 1082.3 410.3 1084.8 407.8C1087.3 405.3 1088 402.8 1089.7 400.3C1091.4 397.8 1092.6 394.9 1094.7 392.9C1096.8 390.8 1098.8 389.9 1102.1 388C1105.4 386.1 1110.4 383.9 1114.5 381.8C1118.6 379.7 1123.1 377.7 1126.8 375.6C1130.5 373.5 1133.8 371.7 1136.7 369.4C1139.6 367.1 1141.6 365.3 1144.1 362C1146.6 358.7 1149.1 353.8 1151.6 349.7C1154.1 345.6 1156.5 340.6 1159 337.3C1161.5 334 1163.9 331.4 1166.4 329.9C1168.9 328.4 1171.5 328.8 1174 328.5C1176.5 328.2 1179 328.8 1181.2 328.4C1183.4 328 1185 328 1187.3 326.4C1189.5 324.8 1192.2 322.7 1194.7 319C1197.2 315.3 1199.7 309.6 1202.2 304.2C1204.7 298.8 1207.5 291.8 1209.6 286.9C1211.6 281.9 1212.5 278.6 1214.5 274.5C1216.5 270.4 1218.8 265.9 1221.9 262.5C1225 259.1 1229.4 256 1233 254.4C1236.6 252.8 1241.1 253.5 1243.7 252.7C1246.3 251.9 1246.7 251.6 1248.5 249.8C1250.3 248 1252.3 244.3 1254.4 242C1256.5 239.7 1258.5 237.4 1261 236.2C1263.5 235 1265.9 235.2 1269.2 235C1272.5 234.8 1277 235.3 1280.8 234.9C1284.6 234.5 1288.7 233.7 1292.3 232.3C1295.9 230.9 1298.9 228.8 1302.2 226.4C1305.5 224 1309.1 220.7 1312.1 218.1C1315.1 215.5 1316.7 213.9 1320 210.7C1323.3 207.5 1328.3 201.7 1332 198.7C1335.7 195.7 1338.2 194.6 1341.9 192.5C1345.6 190.4 1350.1 188.2 1354.2 186.3C1358.3 184.5 1362.1 183.5 1366.6 181.4C1371.1 179.3 1376.5 176.6 1381.4 173.9C1386.4 171.2 1391.3 168.6 1396.3 165.3C1401.2 162 1406.6 157.7 1411.1 154.2C1415.6 150.7 1419.4 147.4 1423.5 144.3C1427.6 141.2 1431.3 138.3 1435.8 135.6C1440.3 132.9 1446.2 130.3 1450.7 128.2C1455.2 126.1 1458.5 124.8 1463 123C1467.5 121.2 1471.6 119 1477.8 117.1C1484 115.2 1492.3 113.2 1500.1 111.6C1507.9 110 1516.6 108.7 1524.8 107.7C1533 106.7 1541.3 106.6 1549.5 105.8C1557.7 105 1566 104 1574.2 102.8C1582.5 101.6 1592 99.8 1599 98.8C1606 97.8 1611 97.2 1616.3 96.9C1621.6 96.6 1626.6 96.4 1631.1 97.2C1635.6 98 1640.2 100.2 1643.5 102C1646.8 103.8 1649.3 106 1650.9 108C1652.5 110 1653.3 112.2 1653.2 114C1653.1 115.8 1652.2 117.1 1650.5 119C1648.8 120.9 1645.8 123.3 1643 125.2C1640.2 127.1 1636.5 128.4 1633.5 130.2C1630.5 132 1627.7 133.8 1625.2 136.2C1622.7 138.5 1620.8 140.9 1618.7 144.3C1616.6 147.7 1614.6 153.5 1612.6 156.6C1610.5 159.7 1609.5 160.7 1606.4 162.8C1603.3 164.9 1599 166.5 1594 169C1589 171.5 1582 174.8 1576.7 177.7C1571.4 180.6 1566.7 183.4 1561.9 186.3C1557.1 189.2 1551.3 193.4 1548 195.4C1544.7 197.4 1545.1 196.8 1542 198.2C1538.9 199.6 1533.8 201.9 1529.3 203.9C1524.8 205.9 1519.6 208 1514.8 209.9C1510 211.8 1505.1 213.6 1500.3 215.4C1495.5 217.2 1490.6 219.2 1485.8 220.8C1481 222.5 1476.1 223.6 1471.3 225.3C1466.5 227 1461.7 229 1456.9 230.8C1452.1 232.6 1446.9 234.4 1442.4 236.2C1437.9 238 1433.9 239.6 1429.7 241.6C1425.5 243.6 1420.9 245.9 1417 248C1413.1 250.1 1409.4 252 1406.1 254.3C1402.8 256.6 1400.1 258.7 1397.1 261.6C1394.1 264.5 1390.6 268.7 1388 271.5C1385.4 274.3 1384.1 276.1 1381.4 278.2C1378.7 280.3 1374.9 283 1371.6 284.4C1368.3 285.8 1365.4 286.1 1361.7 286.4C1358 286.7 1352.8 286 1349.3 286.1C1345.8 286.2 1342.8 286.4 1340.7 286.9C1338.6 287.4 1337.3 288.1 1336.9 289.3C1336.5 290.5 1337.9 292.2 1338.2 294.3C1338.5 296.4 1339.3 299.6 1338.9 301.7C1338.5 303.8 1337.7 304.5 1335.7 306.6C1333.7 308.7 1329.8 311.8 1327.1 314.1C1324.4 316.4 1321.5 317.9 1319.6 320.2C1317.7 322.4 1317.3 325.3 1315.9 327.6C1314.5 329.9 1313.3 332.6 1311 333.8C1308.7 335.1 1305 334.6 1302.3 335.1C1299.6 335.6 1297.2 335.4 1294.9 336.8C1292.6 338.2 1290.5 341.4 1288.7 343.7C1286.9 346 1285.8 348.9 1284.1 350.9C1282.4 352.9 1280.8 354.3 1278.7 355.9C1276.6 357.5 1273.8 359 1271.4 360.4C1269 361.8 1266.6 362.9 1264.2 364C1261.8 365.1 1259 366.1 1256.9 367.2C1254.8 368.3 1253.2 369.4 1251.5 370.8C1249.8 372.2 1248.5 373.9 1247 375.3C1245.5 376.7 1244.4 377.8 1242.4 379C1240.4 380.2 1237.9 381.3 1235.2 382.6C1232.5 383.9 1229.1 385.3 1226.1 386.6C1223.1 387.9 1220 388.6 1217.1 390.3C1214.1 392 1211.9 394.5 1208.4 396.6C1204.9 398.7 1199.8 400.5 1196.1 402.8C1192.4 405.1 1189.5 407.7 1186.2 410.2C1182.9 412.7 1180 415.5 1176.3 417.7C1172.6 419.9 1168.9 421.4 1163.9 423.3C1159 425.2 1152.4 427.1 1146.6 428.8C1140.8 430.5 1135.1 432.1 1129.3 433.7C1123.5 435.3 1117.3 436.6 1112 438.7C1106.7 440.8 1102.2 443.4 1097.2 446.1C1092.2 448.8 1087.2 452.1 1082.3 454.7C1077.3 457.2 1072 459.9 1067.5 461.4C1063 462.9 1059.2 463.6 1055.1 463.9C1051 464.1 1046.7 463.5 1042.8 462.9C1038.9 462.3 1032.5 462.2 1031.7 460.4Z" fill="#FAD5B6" stroke="#000" stroke-width="2.9" stroke-linejoin="round"/>
<path d="M1055.9 454.7C1060 452.6 1072.5 446.2 1080.6 441.8C1088.7 437.4 1096.5 432.6 1104.4 428C1112.3 423.4 1120.2 419.1 1128.1 414.1C1136 409.2 1145.3 402.5 1151.8 398.3C1158.3 394.1 1160.8 393.1 1166.9 388.9C1173.1 384.7 1181.3 378.4 1188.7 373C1196.1 367.6 1204 362 1211.4 356.2C1218.8 350.4 1226.1 344.3 1233.2 338.4C1240.3 332.5 1247 326.8 1253.9 320.6C1260.8 314.5 1267.7 307.8 1274.7 301.5C1281.7 295.2 1288.7 289.1 1295.7 283C1302.7 276.9 1309.4 270.8 1316.5 265C1323.6 259.2 1330.7 254 1338.4 248.5C1346.1 243 1353.6 238.6 1362.9 232C1372.2 225.4 1385.3 215.4 1394.3 209C1403.3 202.6 1409.2 198.4 1417 193.6C1424.8 188.8 1434.6 183.5 1441.2 180C1447.8 176.5 1452.5 174.5 1456.7 172.5C1460.9 170.5 1462.2 169.8 1466.5 167.9C1470.8 166 1478.4 162.7 1482.7 160.9C1487 159.1 1488.2 158.8 1492.5 157.1C1496.8 155.4 1504.3 152.3 1508.6 150.6C1512.9 148.9 1514.1 148.8 1518.4 147.1C1522.7 145.4 1530.3 142 1534.6 140.2C1538.9 138.4 1539.8 137.8 1544.1 136.2C1548.4 134.6 1556.2 132.1 1560.6 130.5C1565 128.9 1566.1 128.3 1570.5 126.8C1574.9 125.3 1582.6 122.9 1587 121.4C1591.4 120 1592.3 119.3 1596.8 118.1C1601.2 116.9 1609.2 115.1 1613.7 114.2C1618.2 113.3 1620.6 112.8 1624 112.8C1627.4 112.8 1632.2 114.1 1633.9 114.4" fill="none" stroke="#31859C" stroke-width="3" stroke-dasharray="14.4 13.55" stroke-dashoffset="27.05" stroke-linecap="round"/>
<path d="M1535.3 121.7C1535.1 121.9 1534.7 122.5 1534.5 122.8C1534.3 123.2 1534 123.6 1533.8 124C1533.7 124.4 1533.5 124.8 1533.4 125.2C1533.2 125.6 1533.1 126 1533 126.4C1532.9 126.8 1532.9 127.2 1532.8 127.6C1532.8 128 1532.8 128.4 1532.8 128.8C1532.8 129.2 1532.9 129.6 1532.9 130C1533 130.4 1533.1 130.8 1533.2 131.2C1533.3 131.6 1533.5 132 1533.7 132.4C1533.8 132.8 1534 133.2 1534.3 133.6C1534.5 133.9 1534.7 134.3 1535 134.7C1535.3 135.1 1535.6 135.4 1535.9 135.8C1536.2 136.1 1536.5 136.5 1536.9 136.8C1537.3 137.1 1537.6 137.5 1538 137.8C1538.4 138.1 1538.9 138.4 1539.3 138.7C1539.8 139 1540.2 139.3 1540.7 139.6C1541.2 139.9 1541.7 140.1 1542.2 140.4C1542.7 140.6 1543.2 140.9 1543.8 141.1C1544.3 141.3 1544.9 141.5 1545.5 141.7C1546 141.9 1546.6 142.1 1547.2 142.2C1547.8 142.4 1548.4 142.6 1549 142.7C1549.6 142.8 1550.3 143 1550.9 143.1C1551.5 143.2 1552.2 143.3 1552.8 143.3C1553.4 143.4 1554.4 143.5 1554.7 143.5" fill="none" stroke="#FF0000" stroke-width="2.8" stroke-linecap="round"/>
<path d="M1553.9 113.3C1554.3 113.3 1555.6 113.2 1556.4 113.2C1557.3 113.2 1558.2 113.2 1559 113.2C1559.9 113.3 1560.7 113.3 1561.6 113.4C1562.4 113.5 1563.2 113.6 1564.1 113.8C1564.9 113.9 1565.7 114.1 1566.5 114.3C1567.3 114.5 1568 114.7 1568.8 115C1569.6 115.2 1570.3 115.5 1571 115.8C1571.7 116.1 1572.4 116.4 1573 116.8C1573.7 117.1 1574.3 117.5 1574.9 117.8C1575.5 118.2 1576.1 118.6 1576.6 119C1577.1 119.5 1577.6 119.9 1578.1 120.3C1578.5 120.8 1578.9 121.3 1579.3 121.7C1579.7 122.2 1580 122.7 1580.3 123.2C1580.6 123.7 1580.9 124.2 1581.1 124.7C1581.3 125.2 1581.4 125.8 1581.6 126.3C1581.7 126.8 1581.8 127.3 1581.8 127.9C1581.8 128.4 1581.8 128.9 1581.7 129.5C1581.7 130 1581.6 130.5 1581.4 131C1581.3 131.6 1581.1 132.1 1580.9 132.6C1580.6 133.1 1580.3 133.6 1580 134.1C1579.7 134.6 1579.3 135.1 1578.9 135.5C1578.5 136 1578.1 136.5 1577.6 136.9C1577.1 137.3 1576.6 137.8 1576.1 138.2C1575.5 138.6 1574.6 139.1 1574.3 139.3" fill="none" stroke="#FF0000" stroke-width="2.8" stroke-linecap="round"/>
<path d="M1402 413.5C1401.8 413.7 1401.4 414.3 1401.2 414.6C1401 415 1400.7 415.4 1400.5 415.8C1400.4 416.2 1400.2 416.6 1400.1 417C1399.9 417.4 1399.8 417.8 1399.7 418.2C1399.6 418.6 1399.6 419 1399.5 419.4C1399.5 419.8 1399.5 420.2 1399.5 420.6C1399.5 421 1399.6 421.4 1399.6 421.8C1399.7 422.2 1399.8 422.6 1399.9 423C1400 423.4 1400.2 423.8 1400.4 424.2C1400.5 424.6 1400.7 425 1401 425.4C1401.2 425.7 1401.4 426.1 1401.7 426.5C1402 426.9 1402.3 427.2 1402.6 427.6C1402.9 427.9 1403.2 428.3 1403.6 428.6C1404 428.9 1404.3 429.3 1404.7 429.6C1405.1 429.9 1405.6 430.2 1406 430.5C1406.5 430.8 1406.9 431.1 1407.4 431.4C1407.9 431.7 1408.4 431.9 1408.9 432.2C1409.4 432.4 1409.9 432.7 1410.5 432.9C1411 433.1 1411.6 433.3 1412.2 433.5C1412.7 433.7 1413.3 433.9 1413.9 434C1414.5 434.2 1415.1 434.4 1415.7 434.5C1416.3 434.6 1417 434.8 1417.6 434.9C1418.2 435 1418.9 435.1 1419.5 435.1C1420.1 435.2 1421.1 435.3 1421.4 435.3" fill="none" stroke="#FF0000" stroke-width="2.8" stroke-linecap="round"/>
<path d="M1420.6 405.1C1421 405.1 1422.3 405 1423.1 405C1424 405 1424.9 405 1425.7 405C1426.6 405.1 1427.4 405.1 1428.3 405.2C1429.1 405.3 1429.9 405.4 1430.8 405.6C1431.6 405.7 1432.4 405.9 1433.2 406.1C1434 406.3 1434.7 406.5 1435.5 406.8C1436.3 407 1437 407.3 1437.7 407.6C1438.4 407.9 1439.1 408.2 1439.7 408.6C1440.4 408.9 1441 409.3 1441.6 409.6C1442.2 410 1442.8 410.4 1443.3 410.8C1443.8 411.3 1444.3 411.7 1444.8 412.1C1445.2 412.6 1445.6 413.1 1446 413.5C1446.4 414 1446.7 414.5 1447 415C1447.3 415.5 1447.6 416 1447.8 416.5C1448 417 1448.1 417.6 1448.3 418.1C1448.4 418.6 1448.5 419.1 1448.5 419.7C1448.5 420.2 1448.5 420.7 1448.4 421.3C1448.4 421.8 1448.3 422.3 1448.1 422.8C1448 423.4 1447.8 423.9 1447.6 424.4C1447.3 424.9 1447 425.4 1446.7 425.9C1446.4 426.4 1446 426.9 1445.6 427.3C1445.2 427.8 1444.8 428.3 1444.3 428.7C1443.8 429.1 1443.3 429.6 1442.8 430C1442.2 430.4 1441.3 430.9 1441 431.1" fill="none" stroke="#FF0000" stroke-width="2.8" stroke-linecap="round"/>
<path d="M1026.7 14.2 V491.4 H1670.5 V14.2" fill="none" stroke="#000" stroke-width="3" stroke-linejoin="miter" stroke-linecap="square"/>
<line x1="1026.7" y1="15.6" x2="1031.5" y2="15.6" stroke="#000" stroke-width="3" stroke-linecap="round"/>
<line x1="1026.7" y1="109.7" x2="1031.5" y2="109.7" stroke="#000" stroke-width="3" stroke-linecap="round"/>
<line x1="1026.7" y1="204.9" x2="1031.5" y2="204.9" stroke="#000" stroke-width="3" stroke-linecap="round"/>
<line x1="1026.7" y1="300.7" x2="1031.5" y2="300.7" stroke="#000" stroke-width="3" stroke-linecap="round"/>
<line x1="1026.7" y1="397.4" x2="1031.5" y2="397.4" stroke="#000" stroke-width="3" stroke-linecap="round"/>
<line x1="1119.1" y1="491.4" x2="1119.1" y2="485.6" stroke="#000" stroke-width="3" stroke-linecap="round"/>
<line x1="1211" y1="491.4" x2="1211" y2="485.6" stroke="#000" stroke-width="3" stroke-linecap="round"/>
<line x1="1302.8" y1="491.4" x2="1302.8" y2="485.6" stroke="#000" stroke-width="3" stroke-linecap="round"/>
<line x1="1394.7" y1="491.4" x2="1394.7" y2="485.6" stroke="#000" stroke-width="3" stroke-linecap="round"/>
<line x1="1486.6" y1="491.4" x2="1486.6" y2="485.6" stroke="#000" stroke-width="3" stroke-linecap="round"/>
<line x1="1578.5" y1="491.4" x2="1578.5" y2="485.6" stroke="#000" stroke-width="3" stroke-linecap="round"/>
<line x1="1670.5" y1="430.6" x2="1661.7" y2="430.6" stroke="#000" stroke-width="3" stroke-linecap="round"/>
<line x1="1670.5" y1="371.3" x2="1661.7" y2="371.3" stroke="#000" stroke-width="3" stroke-linecap="round"/>
<line x1="1670.5" y1="312.1" x2="1661.7" y2="312.1" stroke="#000" stroke-width="3" stroke-linecap="round"/>
<line x1="1670.5" y1="252.8" x2="1661.7" y2="252.8" stroke="#000" stroke-width="3" stroke-linecap="round"/>
<line x1="1670.5" y1="193.6" x2="1661.7" y2="193.6" stroke="#000" stroke-width="3" stroke-linecap="round"/>
<line x1="1670.5" y1="134.3" x2="1661.7" y2="134.3" stroke="#000" stroke-width="3" stroke-linecap="round"/>
<line x1="1670.5" y1="75.1" x2="1661.7" y2="75.1" stroke="#000" stroke-width="3" stroke-linecap="round"/>
<line x1="1670.5" y1="15.6" x2="1661.7" y2="15.6" stroke="#000" stroke-width="3" stroke-linecap="round"/>
<line x1="1082.3" y1="42.5" x2="1148" y2="42.5" stroke="#FFC000" stroke-width="2.8" stroke-linecap="round"/>
<line x1="1082.3" y1="77.6" x2="1098.3" y2="77.6" stroke="#31859C" stroke-width="2.8" stroke-linecap="round"/>
<line x1="1110.2" y1="77.6" x2="1126.2" y2="77.6" stroke="#31859C" stroke-width="2.8" stroke-linecap="round"/>
<line x1="1138.2" y1="77.6" x2="1148" y2="77.6" stroke="#31859C" stroke-width="2.8" stroke-linecap="round"/>
<text id="a_l0" x="32.58" y="23.58" textLength="77.04" lengthAdjust="spacingAndGlyphs">0.016</text>
<text id="a_l1" x="28.80" y="120.83" textLength="76.51" lengthAdjust="spacingAndGlyphs">0.008</text>
<text id="a_l2" x="28.79" y="217.23" textLength="77.13" lengthAdjust="spacingAndGlyphs">0.006</text>
<text id="a_l3" x="28.79" y="310.83" textLength="77.13" lengthAdjust="spacingAndGlyphs">0.004</text>
<text id="a_l4" x="28.78" y="407.23" textLength="77.14" lengthAdjust="spacingAndGlyphs">0.002</text>
<text id="a_l5" x="28.79" y="500.03" textLength="77.13" lengthAdjust="spacingAndGlyphs">0.000</text>
<text id="a_x0" x="109.12" y="530.23" textLength="16.84" lengthAdjust="spacingAndGlyphs">0</text>
<text id="a_x1" x="191.75" y="525.93" textLength="34.71" lengthAdjust="spacingAndGlyphs">50</text>
<text id="a_x2" x="275.54" y="525.93" textLength="51.68" lengthAdjust="spacingAndGlyphs">100</text>
<text id="a_x3" x="368.40" y="525.93" textLength="50.93" lengthAdjust="spacingAndGlyphs">150</text>
<text id="a_x4" x="459.17" y="526.03" textLength="52.16" lengthAdjust="spacingAndGlyphs">200</text>
<text id="a_x5" x="550.97" y="525.93" textLength="51.45" lengthAdjust="spacingAndGlyphs">250</text>
<text id="a_x6" x="643.75" y="525.93" textLength="52.18" lengthAdjust="spacingAndGlyphs">300</text>
<text id="a_x7" x="735.78" y="525.93" textLength="51.65" lengthAdjust="spacingAndGlyphs">350</text>
<text id="a_r0" x="773.67" y="25.83" textLength="41.32" lengthAdjust="spacingAndGlyphs">1.6</text>
<text id="a_r1" x="773.68" y="83.08" textLength="41.32" lengthAdjust="spacingAndGlyphs">1.4</text>
<text id="a_r2" x="773.59" y="146.48" textLength="42.44" lengthAdjust="spacingAndGlyphs">1.2</text>
<text id="a_r3" x="773.57" y="204.08" textLength="42.47" lengthAdjust="spacingAndGlyphs">1.0</text>
<text id="a_r4" x="773.17" y="266.73" textLength="43.05" lengthAdjust="spacingAndGlyphs">0.8</text>
<text id="a_r5" x="773.17" y="322.88" textLength="43.05" lengthAdjust="spacingAndGlyphs">0.6</text>
<text id="a_r6" x="773.21" y="386.48" textLength="42.00" lengthAdjust="spacingAndGlyphs">0.4</text>
<text id="a_r7" x="773.16" y="442.88" textLength="43.08" lengthAdjust="spacingAndGlyphs">0.2</text>
<text id="a_r8" x="786.37" y="501.08" textLength="16.65" lengthAdjust="spacingAndGlyphs">0</text>
<text id="a_xt" x="331.79" y="554.78" textLength="199.70" lengthAdjust="spacingAndGlyphs">Iterations/time</text>
<text id="a_cap" x="278.75" y="598.58" textLength="257.89" lengthAdjust="spacingAndGlyphs">(a) Improve JAYA</text>
<text id="a_yt" transform="translate(25.30 325.60) rotate(-90)" textLength="153.47" lengthAdjust="spacingAndGlyphs">Error value</text>
<text id="a_rt" transform="translate(848.60 316.62) rotate(-90)" textLength="151.86" lengthAdjust="spacingAndGlyphs">Run time/s</text>
<text id="a_lg1" x="260.39" y="53.98" textLength="155.90" lengthAdjust="spacingAndGlyphs">Error value</text>
<text id="a_lg2" x="261.58" y="87.38" textLength="127.45" lengthAdjust="spacingAndGlyphs">Run time</text>
<text id="b_l0" x="940.58" y="23.58" textLength="77.04" lengthAdjust="spacingAndGlyphs">0.016</text>
<text id="b_l1" x="936.80" y="120.83" textLength="76.51" lengthAdjust="spacingAndGlyphs">0.008</text>
<text id="b_l2" x="936.79" y="217.23" textLength="77.13" lengthAdjust="spacingAndGlyphs">0.006</text>
<text id="b_l3" x="936.79" y="310.83" textLength="77.13" lengthAdjust="spacingAndGlyphs">0.004</text>
<text id="b_l4" x="936.78" y="407.23" textLength="77.14" lengthAdjust="spacingAndGlyphs">0.002</text>
<text id="b_l5" x="936.79" y="500.03" textLength="77.13" lengthAdjust="spacingAndGlyphs">0.000</text>
<text id="b_x0" x="1017.12" y="530.23" textLength="16.84" lengthAdjust="spacingAndGlyphs">0</text>
<text id="b_x1" x="1099.75" y="525.93" textLength="34.71" lengthAdjust="spacingAndGlyphs">50</text>
<text id="b_x2" x="1183.54" y="525.93" textLength="51.68" lengthAdjust="spacingAndGlyphs">100</text>
<text id="b_x3" x="1276.40" y="525.93" textLength="50.93" lengthAdjust="spacingAndGlyphs">150</text>
<text id="b_x4" x="1367.17" y="526.03" textLength="52.16" lengthAdjust="spacingAndGlyphs">200</text>
<text id="b_x5" x="1458.97" y="525.93" textLength="51.45" lengthAdjust="spacingAndGlyphs">250</text>
<text id="b_x6" x="1551.75" y="525.93" textLength="52.18" lengthAdjust="spacingAndGlyphs">300</text>
<text id="b_x7" x="1643.78" y="525.93" textLength="51.65" lengthAdjust="spacingAndGlyphs">350</text>
<text id="b_r0" x="1682.19" y="25.83" textLength="42.31" lengthAdjust="spacingAndGlyphs">4.0</text>
<text id="b_r1" x="1681.14" y="83.08" textLength="43.40" lengthAdjust="spacingAndGlyphs">3.5</text>
<text id="b_r2" x="1681.14" y="146.48" textLength="43.42" lengthAdjust="spacingAndGlyphs">3.0</text>
<text id="b_r3" x="1681.17" y="204.08" textLength="43.37" lengthAdjust="spacingAndGlyphs">2.5</text>
<text id="b_r4" x="1681.17" y="266.73" textLength="43.37" lengthAdjust="spacingAndGlyphs">2.0</text>
<text id="b_r5" x="1680.04" y="322.88" textLength="44.54" lengthAdjust="spacingAndGlyphs">1.5</text>
<text id="b_r6" x="1680.04" y="386.48" textLength="44.54" lengthAdjust="spacingAndGlyphs">1.0</text>
<text id="b_r7" x="1681.17" y="442.88" textLength="43.37" lengthAdjust="spacingAndGlyphs">0.5</text>
<text id="b_r8" x="1694.37" y="501.08" textLength="16.65" lengthAdjust="spacingAndGlyphs">0</text>
<text id="b_xt" x="1239.79" y="554.78" textLength="199.70" lengthAdjust="spacingAndGlyphs">Iterations/time</text>
<text id="b_cap" x="1181.96" y="598.78" textLength="268.40" lengthAdjust="spacingAndGlyphs">(b) Adaptive JAVA</text>
<text id="b_yt" transform="translate(933.30 325.60) rotate(-90)" textLength="153.47" lengthAdjust="spacingAndGlyphs">Error value</text>
<text id="b_rt" transform="translate(1756.60 316.62) rotate(-90)" textLength="151.86" lengthAdjust="spacingAndGlyphs">Run time/s</text>
<text id="b_lg1" x="1168.39" y="53.98" textLength="155.90" lengthAdjust="spacingAndGlyphs">Error value</text>
<text id="b_lg2" x="1169.58" y="87.38" textLength="127.45" lengthAdjust="spacingAndGlyphs">Run time</text>
<circle cx="808.5" cy="45.6" r="1.3" fill="#000"/>
</svg>
</body></html>
